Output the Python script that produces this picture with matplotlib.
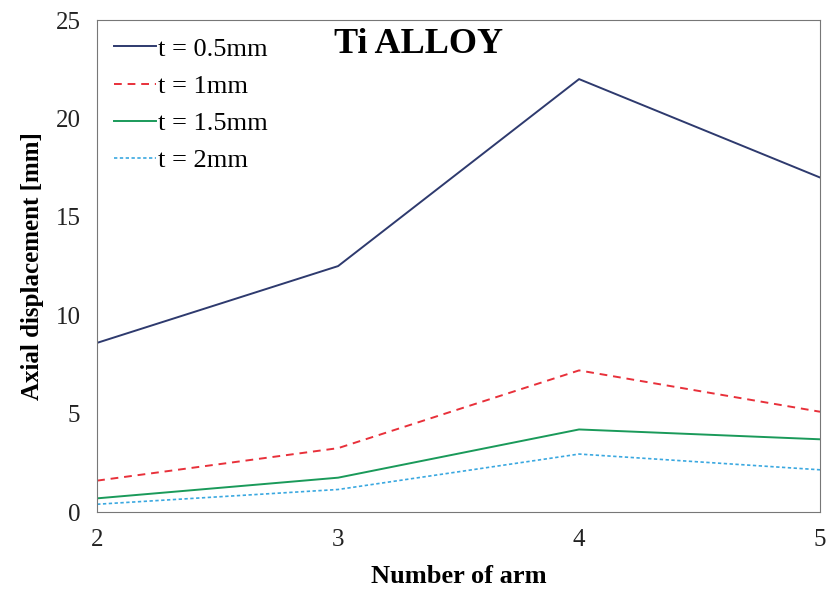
import matplotlib.pyplot as plt

plt.rcParams['font.family'] = ['Liberation Serif', 'DejaVu Serif']

# Number of arms and axial displacement [mm] for each thickness
arms = [2, 3, 4, 5]
t05 = [8.6, 12.5, 22.0, 17.0]
t10 = [1.6, 3.25, 7.2, 5.1]
t15 = [0.7, 1.75, 4.2, 3.7]
t20 = [0.4, 1.15, 2.95, 2.15]
labels = ['t = 0.5mm', 't = 1mm', 't = 1.5mm', 't = 2mm']

fig, ax = plt.subplots(figsize=(8.3, 5.9), dpi=100)

ax.plot(arms, t05, color='#2e3a6e', lw=1.4, label=labels[0])
ax.plot(arms, t10, color='#e8303a', lw=1.4, ls=(0, (4, 3)), label=labels[1])
ax.plot(arms, t15, color='#1a9a5a', lw=1.4, label=labels[2])
ax.plot(arms, t20, color='#3aa8e0', lw=1.2, ls=(0, (2, 1.5)), label=labels[3])

ax.set_xlim(2, 5)
ax.set_ylim(0, 25)
ax.set_xticks(arms)
ax.set_yticks([0, 5, 10, 15, 20, 25])
ax.tick_params(labelsize=18, length=0, pad=12, colors='#222222')

ax.set_xlabel('Number of arm', fontsize=19, fontweight='bold', labelpad=10)
ax.set_ylabel('Axial displacement [mm]', fontsize=18, fontweight='bold', labelpad=8)

ax.text(0.445, 0.95, 'Ti ALLOY', transform=ax.transAxes, fontsize=26,
        fontweight='bold', ha='center', va='center')

for s in ax.spines.values():
    s.set_color('#777777')

ax.legend(loc='upper left', frameon=False, fontsize=19, handlelength=1.6,
          handletextpad=0.05, labelspacing=0.52, borderaxespad=0.1,
          borderpad=0.55)

plt.subplots_adjust(left=0.117, right=0.988, top=0.966, bottom=0.132)
plt.savefig('out.png', dpi=100)
